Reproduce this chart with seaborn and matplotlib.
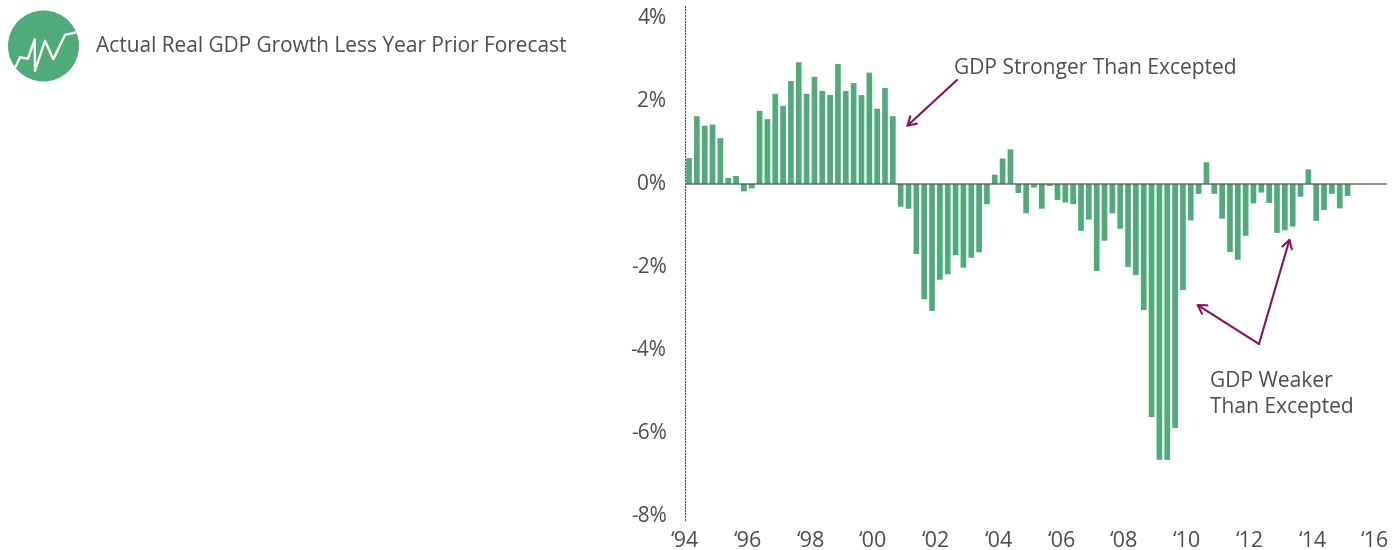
import pandas as pd
import seaborn as sns
import matplotlib.pyplot as plt
from matplotlib.patches import Circle
from matplotlib.transforms import ScaledTranslation

# quarterly, 1994 Q1 to 2015 Q1
quarters = pd.period_range('1994Q1', '2015Q1', freq='Q').astype(str).tolist()
surprise = [
    0.62, 1.63, 1.40, 1.43, 1.10, 0.14, 0.19, -0.18, -0.11, 1.76, 1.56, 2.17, 1.88, 2.48,
    2.93, 2.17, 2.58, 2.24, 2.14, 2.89, 2.24, 2.43, 2.14, 2.68, 1.81, 2.31, 1.63,
    -0.55, -0.60, -1.69, -2.78, -3.06, -2.31, -2.18, -1.72, -2.02, -1.78, -1.65, -0.49,
    0.22, 0.61, 0.83, -0.22, -0.71, -0.09, -0.60, -0.05, -0.39, -0.45, -0.49, -1.13,
    -0.86, -2.10, -1.37, -0.71, -1.08, -2.00,
    -2.20, -3.04, -5.62, -6.65, -6.65, -5.88, -2.56, -0.88, -0.24, 0.52,
    -0.24, -0.84, -1.64, -1.83, -1.25, -0.47, -0.21, -0.46, -1.18, -1.12, -1.03, -0.31,
    0.35, -0.89, -0.63, -0.24, -0.59, -0.29,
]
year_labels = ['‘94', '‘96', '‘98', '‘00', '‘02', '‘04', '‘06', '‘08', '‘10', '‘12', '‘14', '‘16']
pct_ticks = [4, 2, 0, -2, -4, -6, -8]
icon_x = [15.7, 20, 28, 34.7, 35, 45, 53.3, 65, 76]
icon_y = [66.7, 57.3, 58.7, 39.3, 70.7, 40.7, 59.3, 35, 32.3]

GREEN = '#50AB7A'
PURPLE = '#8A0F5E'
GREY = '#4D4D4D'
W, H = 1397, 550

sns.set_theme(style='white')
plt.rcParams['font.family'] = ['Open Sans', 'DejaVu Sans']

fig = plt.figure(figsize=(W / 100, H / 100), dpi=100)
ax = fig.add_axes([684.5 / W, 1 - 520 / H, (1387 - 684.5) / W, 515 / H])

df = pd.DataFrame({'quarter': quarters, 'surprise': surprise})
sns.barplot(data=df, x='quarter', y='surprise', color=GREEN, saturation=1, width=0.72, ax=ax)
for p in ax.patches:
    p.set_snap(False)
    p.set_linewidth(0)
ax.set(xlabel=None, ylabel=None)
ax.set_xlim(-0.574, 89.03)
ax.set_ylim(-8.10, 4.31)

ax.axhline(0, color='#555555', lw=1.3, alpha=0.7, zorder=5)
ax.set_xticks([-0.5 + 8 * i for i in range(len(year_labels))])
ax.set_xticklabels(year_labels, va='center')
ax.set_yticks(pct_ticks)
ax.set_yticklabels([f'{v}%' for v in pct_ticks], va='center')
ax.tick_params(axis='x', length=0, pad=6, labelsize=15.5, labelcolor=GREY)
ax.tick_params(axis='y', length=0, pad=13, labelsize=15, labelcolor=GREY)
# year labels centred about 20px under the axes, percent labels 1px below their value
down = ScaledTranslation(0, -1 / 100, fig.dpi_scale_trans)
for t in ax.get_yticklabels():
    t.set_transform(t.get_transform() + down)
year_shift = ScaledTranslation(0, -13 / 100, fig.dpi_scale_trans)
for t in ax.get_xticklabels():
    t.set_transform(t.get_transform() + year_shift)
sns.despine(ax=ax, top=True, right=True, bottom=True)
ax.spines['left'].set_linestyle((0, (1, 1.7)))
ax.spines['left'].set_linewidth(0.8)
ax.spines['left'].set_color('#555555')

# overlay in pixel coordinates for the icon, title and callouts
over = fig.add_axes([0, 0, 1, 1])
over.set_xlim(0, W)
over.set_ylim(H, 0)
over.axis('off')
over.patch.set_alpha(0)
over.add_patch(Circle((43.5, 46), 35.5, color=GREEN, lw=0))
over.plot(icon_x, icon_y, color='white', lw=1.7, solid_joinstyle='round')
over.text(96, 46.5, 'Actual Real GDP Growth Less Year Prior Forecast', fontsize=15, color=GREY, va='center')
over.text(954, 68.5, 'GDP Stronger Than Excepted', fontsize=15.15, color=GREY, va='center')
over.text(1210, 381.5, 'GDP Weaker', fontsize=15.15, color=GREY, va='center')
over.text(1210, 407.5, 'Than Excepted', fontsize=15.15, color=GREY, va='center')

arrow = dict(arrowstyle='->,head_length=0.5,head_width=0.3', color=PURPLE, lw=1.5, shrinkA=0, shrinkB=0)
over.annotate('', xy=(906, 127), xytext=(957, 80), arrowprops=arrow)
over.annotate('', xy=(1196, 304), xytext=(1259, 344), arrowprops=arrow)
over.annotate('', xy=(1290, 238), xytext=(1259, 344), arrowprops=arrow)

fig.savefig('out.png', dpi=100)
